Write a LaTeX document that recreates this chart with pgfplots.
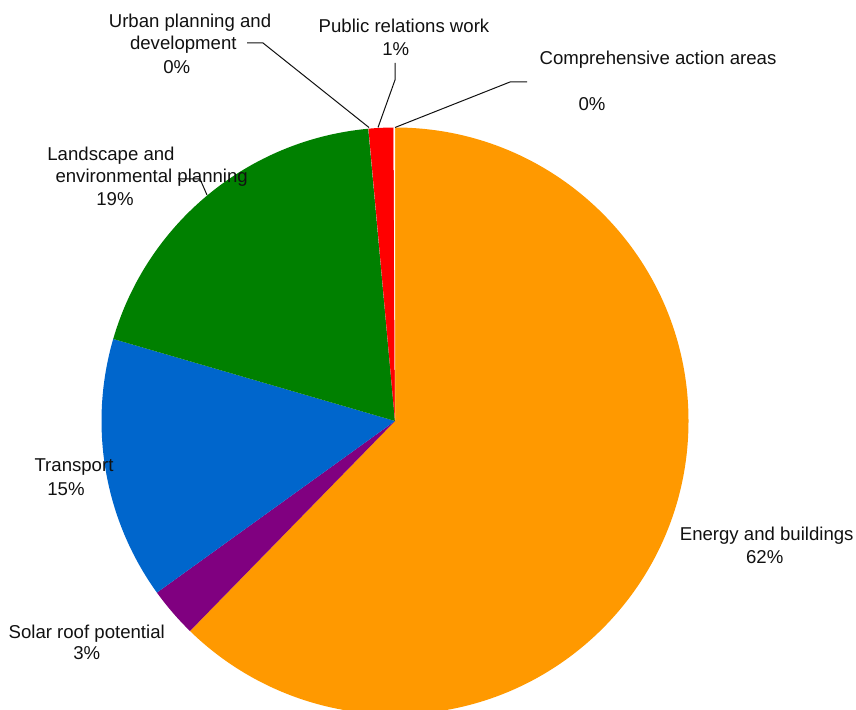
\documentclass[border=0pt]{standalone}
\usepackage{pgfplots}
\pgfplotsset{compat=1.18}
\usepackage{pgfplotstable}
\usepackage{fontspec}
\setmainfont{Liberation Sans}
\definecolor{pie0}{HTML}{FF9900}
\definecolor{pie1}{HTML}{800080}
\definecolor{pie2}{HTML}{0066CC}
\definecolor{pie3}{HTML}{008000}
\definecolor{pie4}{HTML}{C0C0C0}
\definecolor{pie5}{HTML}{FF0000}
\definecolor{pie6}{HTML}{FFFFFF}
\definecolor{txt}{HTML}{111111}
% shares in percent, clockwise from the top
\pgfplotstableread{
label value
Energy 62.31
Solar 2.75
Transport 14.45
Landscape 19.04
Urban 0.01
Public 1.36
Comprehensive 0.08
}\piedata
\begin{document}
\begin{tikzpicture}
\gdef\piecum{90}
\pgfplotsforeachungrouped \i in {0,...,6}{%
  \pgfplotstablegetelem{\i}{value}\of\piedata
  \pgfmathsetmacro\pieend{\piecum-3.6*\pgfplotsretval}%
  \expandafter\xdef\csname pieS\i\endcsname{\piecum}%
  \expandafter\xdef\csname pieE\i\endcsname{\pieend}%
  \xdef\piecum{\pieend}%
}
\useasboundingbox (0,0) rectangle (428pt,355pt);
\begin{axis}[
  scale only axis, width=428pt, height=355pt,
  xmin=0, xmax=856, ymin=0, ymax=710, y dir=reverse,
  hide axis, clip=false,
]
\pgfplotsinvokeforeach{0,...,6}{
  \fill[pie#1] (axis cs:395,421) -- ++(\csname pieS#1\endcsname:146.75pt)
    arc[start angle=\csname pieS#1\endcsname, end angle=\csname pieE#1\endcsname, radius=146.75pt] -- cycle;
}
% leader lines
\draw[line width=0.5pt, txt] (axis cs:247,43) -- (axis cs:263,43) -- (axis cs:369,127.5);
\draw[line width=0.5pt, txt] (axis cs:395,63) -- (axis cs:395,80) -- (axis cs:378,127.5);
\draw[line width=0.5pt, txt] (axis cs:527,82) -- (axis cs:510,82) -- (axis cs:395,127.5);
\draw[line width=0.5pt, txt] (axis cs:178,179) -- (axis cs:200,179) -- (axis cs:207,195);
% labels
\tikzset{lab/.style={anchor=base, inner sep=0pt, text=txt, font=\fontsize{9.3}{11}\selectfont}}
\node[lab] at (axis cs:190,28) {Urban planning and};
\node[lab] at (axis cs:183.3,49.5) {development};
\node[lab] at (axis cs:176.7,73.5) {0\%};
\node[lab] at (axis cs:404,33) {Public relations work};
\node[lab] at (axis cs:395.8,56) {1\%};
\node[lab] at (axis cs:658,65) {Comprehensive action areas};
\node[lab] at (axis cs:592,111) {0\%};
\node[lab] at (axis cs:111,161) {Landscape and};
\node[lab] at (axis cs:151.7,183) {environmental planning};
\node[lab] at (axis cs:115,206) {19\%};
\node[lab] at (axis cs:74,472) {Transport};
\node[lab] at (axis cs:66,495) {15\%};
\node[lab] at (axis cs:86.7,638) {Solar roof potential};
\node[lab] at (axis cs:86.7,659) {3\%};
\node[lab] at (axis cs:766.7,540) {Energy and buildings};
\node[lab] at (axis cs:764.7,563) {62\%};
\end{axis}
\end{tikzpicture}
\end{document}
